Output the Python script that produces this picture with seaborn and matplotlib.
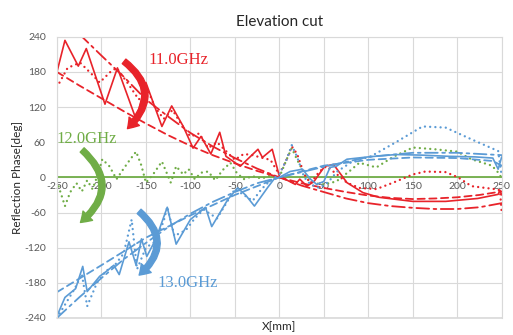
import numpy as np
import pandas as pd
import seaborn as sns
import matplotlib
matplotlib.use("Agg")
import matplotlib.pyplot as plt
from matplotlib.patches import FancyArrowPatch

# ---- data (x in mm, phase in deg) ----
red_solid_x = [-250, -241, -226, -217, -196, -182, -161, -150, -132, -121, -108, -97, -88, -77, -67, -60,
               -44, -24, -19, -8, 0, 18, 23, 31, 39, 51, 61, 76, 94, 112, 150, 187, 223, 246, 248, 250]
red_solid_y = [180, 234, 190, 220, 125, 187, 99, 162, 87, 122, 87, 50, 70, 40, 77, 36,
               19, 48, 34, 48, 2, -12, -3, -15, -7, 19, 22, -9, -26, -34, -41, -41, -36, -29, -22, -30]

red_dot_x = [-250, -238, -224, -210, -202, -190, -183, -170, -158, -148, -140, -130, -120, -110, -100, -90,
             -80, -70, -58, -50, -40, -30, -21, -10, 0, 8, 14, 20, 28, 35, 45, 53, 65, 76, 90, 109,
             128, 150, 164, 187, 201, 216, 242, 248, 250]
red_dot_y = [154, 187, 196, 175, 162, 180, 187, 160, 133, 150, 120, 100, 115, 90, 70, 75,
             50, 60, 42, 30, 40, 38, 34, 30, 5, 30, 53, 40, 5, -10, 10, 19, 5, -9, -18, -20,
             -9, 5, 10, 9, 0, -15, -20, -22, -60]

red_dash_x = [-250, -225, -200, -175, -150, -125, -100, -75, -50, -25, 0, 25, 50, 75, 100, 125, 150, 175, 200, 225, 250]
red_dash_y = [180, 157, 135, 113, 92, 72, 54, 38, 24, 11, 0, -10, -18, -25, -31, -35, -37, -36, -34, -30, -24]

red_dd_x = [-225, -200, -175, -150, -125, -100, -75, -50, -25, 0, 25, 50, 75, 100, 125, 150, 175, 200, 225, 250]
red_dd_y = [245, 208, 172, 133, 104, 76, 53, 33, 15, 0, -14, -25, -36, -44, -49, -52, -54, -54, -51, -44]

green_solid_x = [-250, 250]
green_solid_y = [0, 0]

green_dot_x = [-250, -245, -241, -235, -228, -222, -216, -210, -204, -199, -191, -183, -175, -168, -161, -155,
               -150, -142, -132, -122, -116, -108, -102, -95, -88, -80, -72, -64, -55, -48, -40, -30,
               -20, -10, 0, 8, 14, 20, 31, 40, 50, 64, 80, 90, 109, 128, 150, 175, 200, 216, 239, 248, 250]
green_dot_y = [-7, -30, -49, -25, -10, -24, -5, -20, 5, 31, 19, -3, 15, 30, 44, 20,
               -9, 5, 27, -9, 19, 5, 14, -3, 8, 10, -5, 12, 25, 8, -3, 2,
               -2, 3, 0, 30, 50, 30, -2, -10, -12, -7, 12, 25, 17, 35, 51, 48, 44, 31, 20, 5, -5]

blue_solid_x = [-250, -241, -229, -221, -216, -202, -194, -186, -180, -169, -161, -155, -149, -139, -126, -116,
                -100, -83, -76, -58, -47, -38, -28, -13, -6, 0, 12, 26, 35, 42, 50, 57, 64, 76, 100, 131,
                160, 190, 220, 240, 246, 250]
blue_solid_y = [-237, -205, -190, -152, -195, -169, -160, -150, -166, -110, -150, -105, -135, -106, -51, -114,
                -72, -51, -84, -38, -18, -30, -49, -17, -3, 0, 10, 14, -3, -12, -7, 17, 19, 31, 35, 39,
                38, 36, 35, 33, 14, 35]

blue_dot_x = [-250, -240, -230, -222, -216, -205, -195, -185, -175, -166, -160, -150, -140, -130, -126, -118,
              -105, -95, -85, -70, -60, -50, -40, -30, -20, -10, 0, 8, 14, 20, 28, 35, 45, 55, 65, 80,
              103, 131, 161, 187, 216, 246, 250]
blue_dot_y = [-240, -215, -190, -165, -220, -180, -160, -150, -130, -72, -157, -120, -110, -75, -50, -100,
              -90, -70, -55, -70, -45, -20, -30, -40, -20, -5, 5, 30, 55, 35, 0, -12, -18, -8, 10, 25,
              36, 60, 87, 85, 65, 45, 2]

blue_dash_x = [-250, -200, -150, -100, -50, 0, 50, 100, 150, 200, 240, 250]
blue_dash_y = [-196, -150, -103, -65, -30, 0, 20, 30, 34, 33, 28, 20]

blue_dd_x = [-250, -225, -200, -175, -150, -125, -100, -75, -50, -25, 0, 50, 100, 150, 200, 250]
blue_dd_y = [-240, -205, -172, -140, -112, -85, -62, -42, -25, -10, 0, 18, 35, 42, 42, 38]

x_ticks = [-250, -200, -150, -100, -50, 0, 50, 100, 150, 200, 250]
y_ticks = [-240, -180, -120, -60, 0, 60, 120, 180, 240]

RED = "#E8232A"
GREEN = "#70AD47"
BLUE = "#5B9BD5"
GRID = "#D9D9D9"

sns.set_style("white")
plt.rcParams["axes.unicode_minus"] = False
plt.rcParams["font.family"] = ["Lato", "DejaVu Sans"]

fig, ax = plt.subplots(figsize=(5.13, 3.35), dpi=100)
fig.subplots_adjust(left=0.111, right=0.978, top=0.89, bottom=0.051)

DOT = (0, (0.01, 2.2))
DASH = (0, (4, 2.5))
DASHDOT = (0, (7, 2.5, 1.5, 2.5))

series = [
    (green_solid_x, green_solid_y, GREEN, "-", 1.3),
    (green_dot_x, green_dot_y, GREEN, DOT, 1.7),
    (red_dash_x, red_dash_y, RED, DASH, 1.3),
    (red_dd_x, red_dd_y, RED, DASHDOT, 1.3),
    (red_dot_x, red_dot_y, RED, DOT, 1.7),
    (red_solid_x, red_solid_y, RED, "-", 1.2),
    (blue_dash_x, blue_dash_y, BLUE, DASH, 1.3),
    (blue_dd_x, blue_dd_y, BLUE, DASHDOT, 1.3),
    (blue_dot_x, blue_dot_y, BLUE, DOT, 1.7),
    (blue_solid_x, blue_solid_y, BLUE, "-", 1.2),
]
for xs, ys, c, ls, lw in series:
    sns.lineplot(x=xs, y=ys, ax=ax, color=c, lw=lw, sort=False, estimator=None)
    ln = ax.lines[-1]
    ln.set_linestyle(ls)
    ln.set_dash_capstyle("round")

ax.set_xlim(-250, 250)
ax.set_ylim(-240, 240)
ax.set_xticks(x_ticks)
ax.set_yticks(y_ticks)
ax.grid(True, color=GRID, lw=0.8)
ax.set_axisbelow(True)

# x tick labels ride on the zero line, Excel style
ax.spines["bottom"].set_position(("data", 0))
ax.spines["bottom"].set_visible(False)
for s in ["top", "left", "right"]:
    ax.spines[s].set_color(GRID)
    ax.spines[s].set_linewidth(0.8)
ax.axhline(-240, color=GRID, lw=1.2, clip_on=False, zorder=0)
ax.tick_params(length=0, labelsize=7.5, labelcolor="#595959")
ax.tick_params(axis="x", pad=3)
ax.tick_params(axis="y", pad=8)

ax.set_title("Elevation cut", fontsize=11, color="#262626", pad=8)
ax.set_ylabel("Reflection Phase[deg]", fontsize=8.5, color="#262626", labelpad=1)
ax.text(0.5, -0.012, "X[mm]", transform=ax.transAxes, ha="center", va="top",
        fontsize=8.5, color="#262626")

# curved arrows and frequency labels
arrows = [
    ((-177, 201), (-173, 80), RED),
    ((-224, 50), (-226, -80), GREEN),
    ((-160, -55), (-160, -170), BLUE),
]
for start, end, c in arrows:
    ax.add_patch(FancyArrowPatch(start, end, connectionstyle="arc3,rad=-0.6",
                                 arrowstyle="simple,head_width=0.8,head_length=0.6,tail_width=0.35",
                                 mutation_scale=12, color=c, zorder=5))

serif = ["Liberation Serif", "DejaVu Serif"]
ax.text(-147, 200, "11.0GHz", color=RED, fontsize=12, family=serif, va="center", ha="left")
ax.text(-250, 65, "12.0GHz", color=GREEN, fontsize=12, family=serif, va="center", ha="left")
ax.text(-137, -180, "13.0GHz", color=BLUE, fontsize=12, family=serif, va="center", ha="left")

fig.savefig("out.png", dpi=100)
